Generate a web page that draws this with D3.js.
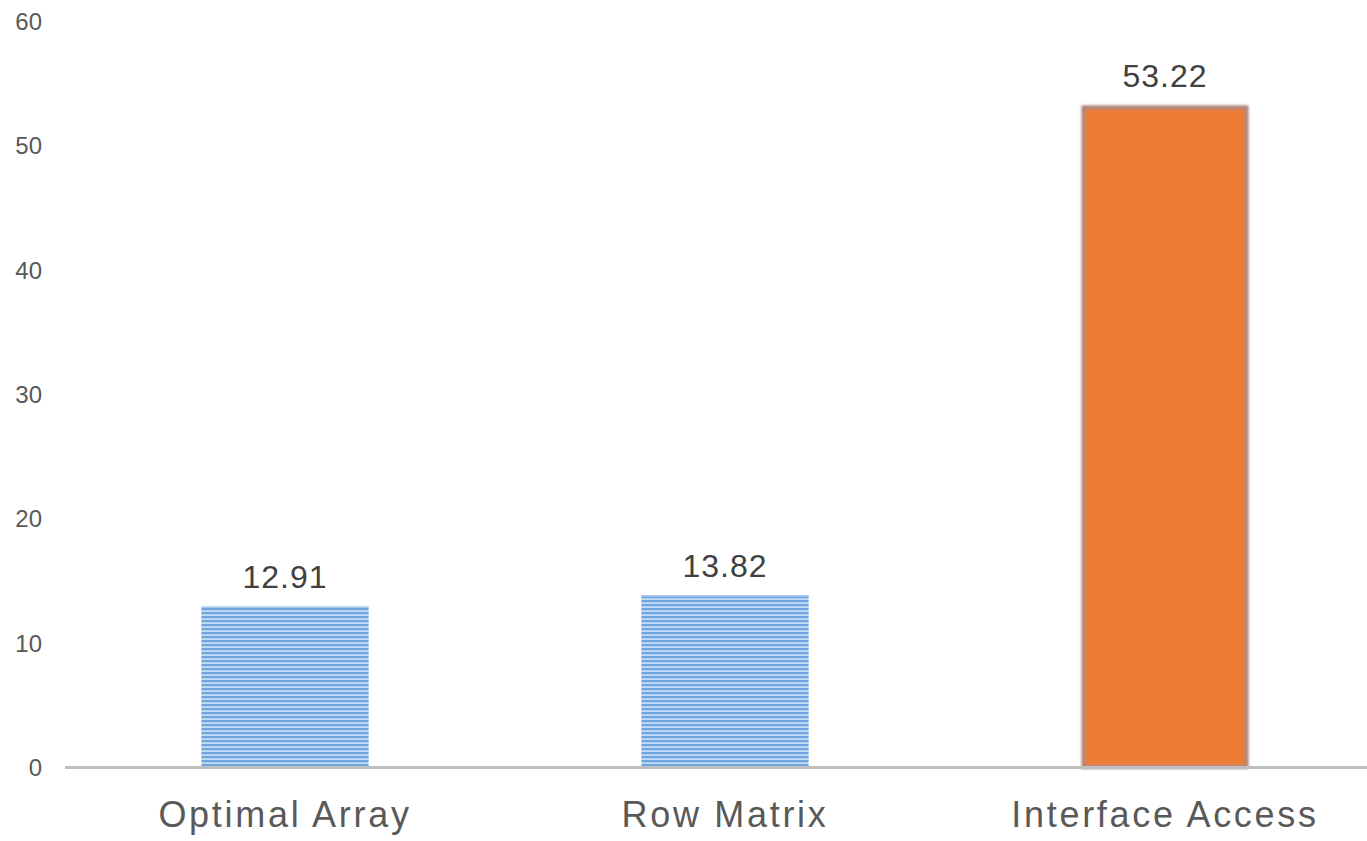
<!DOCTYPE html>
<html>
<head>
<meta charset="utf-8">
<script src="https://cdn.jsdelivr.net/npm/d3@7"></script>
<style>
  html, body { margin: 0; padding: 0; background: #fff; }
  svg { display: block; }
</style>
</head>
<body>
<svg id="chart" width="1367" height="841"></svg>
<script>
// Categories and measured values
const categories = ["Optimal Array", "Row Matrix", "Interface Access"];
const values = [12.91, 13.82, 53.22];
const highlighted = [false, false, true];
const yTicks = [0, 10, 20, 30, 40, 50, 60];

const svg = d3.select("#chart");
const W = 1367, H = 841;
const FONT = "'Liberation Sans', Arial, sans-serif";

const x = d3.scaleBand()
  .domain(categories)
  .range([65, 1385])
  .paddingInner(0.62)
  .paddingOuter(0.31);

const y = d3.scaleLinear()
  .domain([0, 60])
  .range([767, 21]);

// Striped fill for the plain bars
const defs = svg.append("defs");
const pat = defs.append("pattern")
  .attr("id", "stripes")
  .attr("patternUnits", "userSpaceOnUse")
  .attr("width", 8).attr("height", 4);
pat.append("rect").attr("width", 8).attr("height", 4).attr("fill", "#c2dbf4");
pat.append("rect").attr("y", 0).attr("width", 8).attr("height", 2.2).attr("fill", "#6ea4df");

const blur = defs.append("filter").attr("id", "soft")
  .attr("x", "-5%").attr("y", "-5%").attr("width", "110%").attr("height", "110%");
blur.append("feGaussianBlur").attr("stdDeviation", 0.8);

// Y axis labels
const yAxis = d3.axisLeft(y).tickValues(yTicks).tickSize(0).tickPadding(0);
const gy = svg.append("g").attr("transform", "translate(42,0)").call(yAxis);
gy.select(".domain").remove();
gy.selectAll("text")
  .attr("fill", "#595959")
  .attr("dy", "0.36em")
  .style("font-family", FONT)
  .style("font-size", "24px");

// Bars
const bars = svg.append("g");
categories.forEach((c, i) => {
  const bx = x(c), bw = x.bandwidth();
  const top = y(values[i]), h = y(0) - top;
  if (highlighted[i]) {
    bars.append("rect")
      .attr("x", bx + 2).attr("y", top + 2)
      .attr("width", bw - 4).attr("height", h - 2)
      .attr("fill", "#ec7d31")
      .attr("stroke", "#b0877a")
      .attr("stroke-width", 4)
      .attr("filter", "url(#soft)");
  } else {
    bars.append("rect")
      .attr("x", bx).attr("y", top)
      .attr("width", bw).attr("height", h)
      .attr("fill", "url(#stripes)");
    bars.append("rect")
      .attr("x", bx).attr("y", top)
      .attr("width", bw).attr("height", 1.5)
      .attr("fill", "#a9cbef");
  }
  // Value label
  svg.append("text")
    .attr("x", bx + bw / 2)
    .attr("y", top - 18)
    .attr("text-anchor", "middle")
    .attr("fill", "#404040")
    .style("font-family", FONT)
    .style("font-size", "32px")
    .style("letter-spacing", "1px")
    .text(values[i].toFixed(2));
});

// Baseline
svg.append("line")
  .attr("x1", 65).attr("x2", W)
  .attr("y1", y(0) + 0.5).attr("y2", y(0) + 0.5)
  .attr("stroke", "#bfbfbf")
  .attr("stroke-width", 3);

// Category labels
const xAxis = d3.axisBottom(x).tickSize(0).tickPadding(0);
const gx = svg.append("g").attr("transform", "translate(0,827)").call(xAxis);
gx.select(".domain").remove();
gx.selectAll("text")
  .attr("fill", "#595959")
  .attr("dy", "0")
  .style("font-family", FONT)
  .style("font-size", "36px")
  .style("letter-spacing", "2.7px");
</script>
</body>
</html>
